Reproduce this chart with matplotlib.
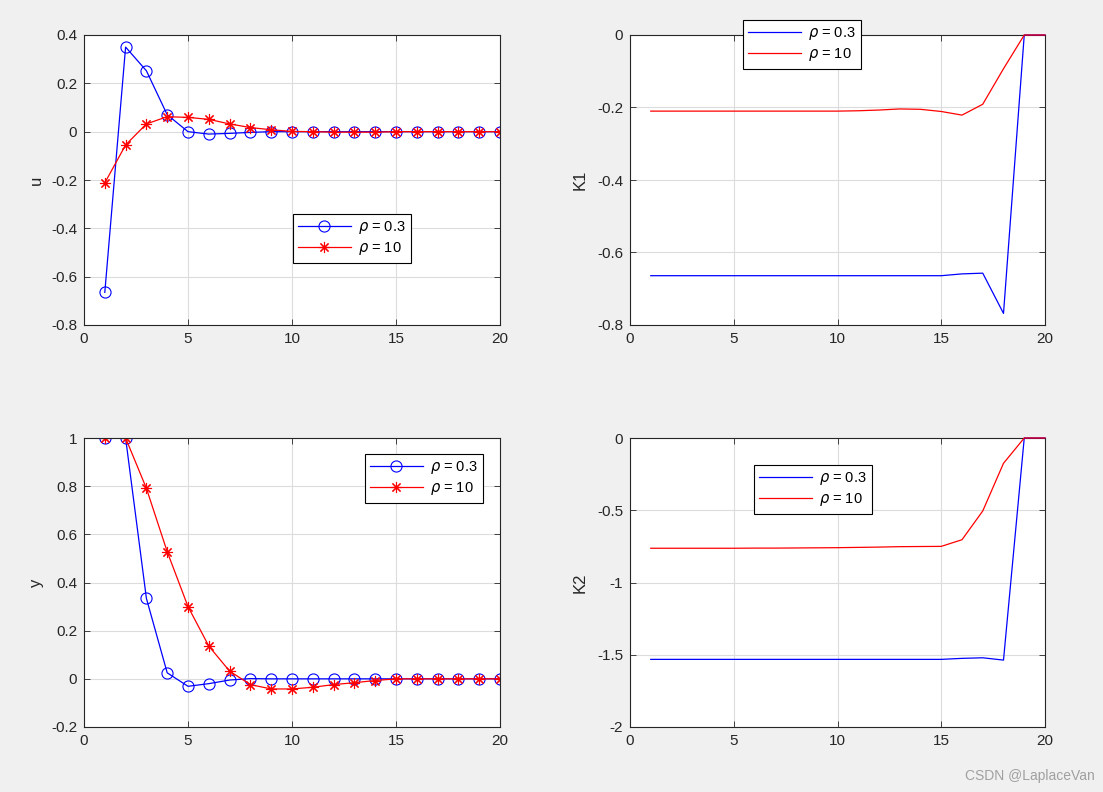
import matplotlib.pyplot as plt

plt.rcParams['font.family'] = ['Liberation Sans', 'DejaVu Sans']
plt.rcParams['axes.unicode_minus'] = False
plt.rcParams['mathtext.fontset'] = 'dejavusans'

# --- data ---
k = list(range(1, 21))

u_03 = [-0.665, 0.350, 0.252, 0.070, 0.000, -0.010, -0.007, -0.003, 0, 0,
        0, 0, 0, 0, 0, 0, 0, 0, 0, 0]
u_10 = [-0.212, -0.055, 0.032, 0.062, 0.059, 0.051, 0.032, 0.017, 0.008, 0.001,
        0, -0.002, -0.002, -0.002, 0, 0, 0, 0, 0, 0]

y_03 = [1, 1, 0.334, 0.025, -0.031, -0.020, -0.005, 0.001, 0, 0,
        0, 0, 0, 0, 0, 0, 0, 0, 0, 0]
y_10 = [1, 1, 0.791, 0.528, 0.300, 0.136, 0.032, -0.024, -0.042, -0.042,
        -0.035, -0.024, -0.016, -0.007, 0, 0, 0, 0, 0, 0]

K1_03 = [-0.664] * 15 + [-0.659, -0.657, -0.768, 0, 0]
K1_10 = [-0.210] * 10 + [-0.209, -0.207, -0.204, -0.205, -0.211, -0.221, -0.191, -0.093, 0, 0]

K2_03 = [-1.532] * 15 + [-1.525, -1.521, -1.537, 0, 0]
K2_10 = [-0.763, -0.763, -0.763, -0.763, -0.763, -0.762, -0.762, -0.761, -0.760, -0.759,
         -0.757, -0.755, -0.752, -0.751, -0.750, -0.704, -0.505, -0.175, 0, 0]

lab1 = r'$\rho$ = 0.3'
lab2 = r'$\rho$ = 10'

W, H = 1103, 792
fig = plt.figure(figsize=(W / 100, H / 100), dpi=100, facecolor='#f0f0f0')


def make_axes(x0, y0, x1, y1):
    ax = fig.add_axes([x0 / W, 1 - y1 / H, (x1 - x0) / W, (y1 - y0) / H])
    ax.set_facecolor('white')
    for s in ax.spines.values():
        s.set_color('#262626')
        s.set_linewidth(0.8)
    ax.tick_params(direction='in', top=True, right=True, length=4,
                   width=0.6, colors='#262626', labelsize=11, pad=5)
    ax.grid(True, color='#dcdcdc', linewidth=0.8)
    ax.set_axisbelow(True)
    ax.set_xlim(0, 20)
    ax.set_xticks([0, 5, 10, 15, 20])
    return ax


def add_legend(ax, px, py):
    leg = ax.legend(loc='upper left', bbox_to_anchor=(px / W, 1 - py / H),
                    bbox_transform=fig.transFigure, borderaxespad=0,
                    fontsize=10.5, handlelength=3.6, fancybox=False,
                    framealpha=1, edgecolor='black', borderpad=0.35,
                    labelspacing=0.3, handletextpad=0.5)
    leg.get_frame().set_linewidth(0.8)
    leg.set_zorder(5)


mk = dict(markersize=8, markerfacecolor='none', linewidth=0.9, markeredgewidth=0.8)
star = (8, 2, 0)

# top left: u
ax1 = make_axes(84, 35, 500, 325)
ax1.plot(k, u_03, color='blue', marker='o', label=lab1, **mk)
ax1.plot(k, u_10, color='red', marker=star, label=lab2, **mk)
ax1.set_ylim(-0.8, 0.4)
ax1.set_yticks([-0.8, -0.6, -0.4, -0.2, 0, 0.2, 0.4])
ax1.set_yticklabels(['-0.8', '-0.6', '-0.4', '-0.2', '0', '0.2', '0.4'])
ax1.set_ylabel('u', fontsize=12, color='#262626', labelpad=5)
add_legend(ax1, 293, 214)

# top right: K1
ax2 = make_axes(630, 35, 1045, 325)
ax2.plot(k, K1_03, color='blue', linewidth=0.9, label=lab1, clip_on=False, zorder=3)
ax2.plot(k, K1_10, color='red', linewidth=0.9, label=lab2, clip_on=False, zorder=3)
ax2.set_ylim(-0.8, 0)
ax2.set_yticks([-0.8, -0.6, -0.4, -0.2, 0])
ax2.set_yticklabels(['-0.8', '-0.6', '-0.4', '-0.2', '0'])
ax2.set_ylabel('K1', fontsize=12, color='#262626', labelpad=7)
add_legend(ax2, 743, 20)

# bottom left: y
ax3 = make_axes(84, 438, 500, 727)
ax3.plot(k, y_03, color='blue', marker='o', label=lab1, **mk)
ax3.plot(k, y_10, color='red', marker=star, label=lab2, **mk)
ax3.set_ylim(-0.2, 1)
ax3.set_yticks([-0.2, 0, 0.2, 0.4, 0.6, 0.8, 1])
ax3.set_yticklabels(['-0.2', '0', '0.2', '0.4', '0.6', '0.8', '1'])
ax3.set_ylabel('y', fontsize=12, color='#262626', labelpad=5)
add_legend(ax3, 365, 454)

# bottom right: K2
ax4 = make_axes(630, 438, 1045, 727)
ax4.plot(k, K2_03, color='blue', linewidth=0.9, label=lab1, clip_on=False, zorder=3)
ax4.plot(k, K2_10, color='red', linewidth=0.9, label=lab2, clip_on=False, zorder=3)
ax4.set_ylim(-2, 0)
ax4.set_yticks([-2, -1.5, -1, -0.5, 0])
ax4.set_yticklabels(['-2', '-1.5', '-1', '-0.5', '0'])
ax4.set_ylabel('K2', fontsize=12, color='#262626', labelpad=7)
add_legend(ax4, 754, 465)

fig.text(1095 / W, 1 - 776 / H, 'CSDN @LaplaceVan', ha='right', va='center',
         fontsize=10, color='#a0a0a0')

fig.savefig('out.png', dpi=100, facecolor=fig.get_facecolor())
